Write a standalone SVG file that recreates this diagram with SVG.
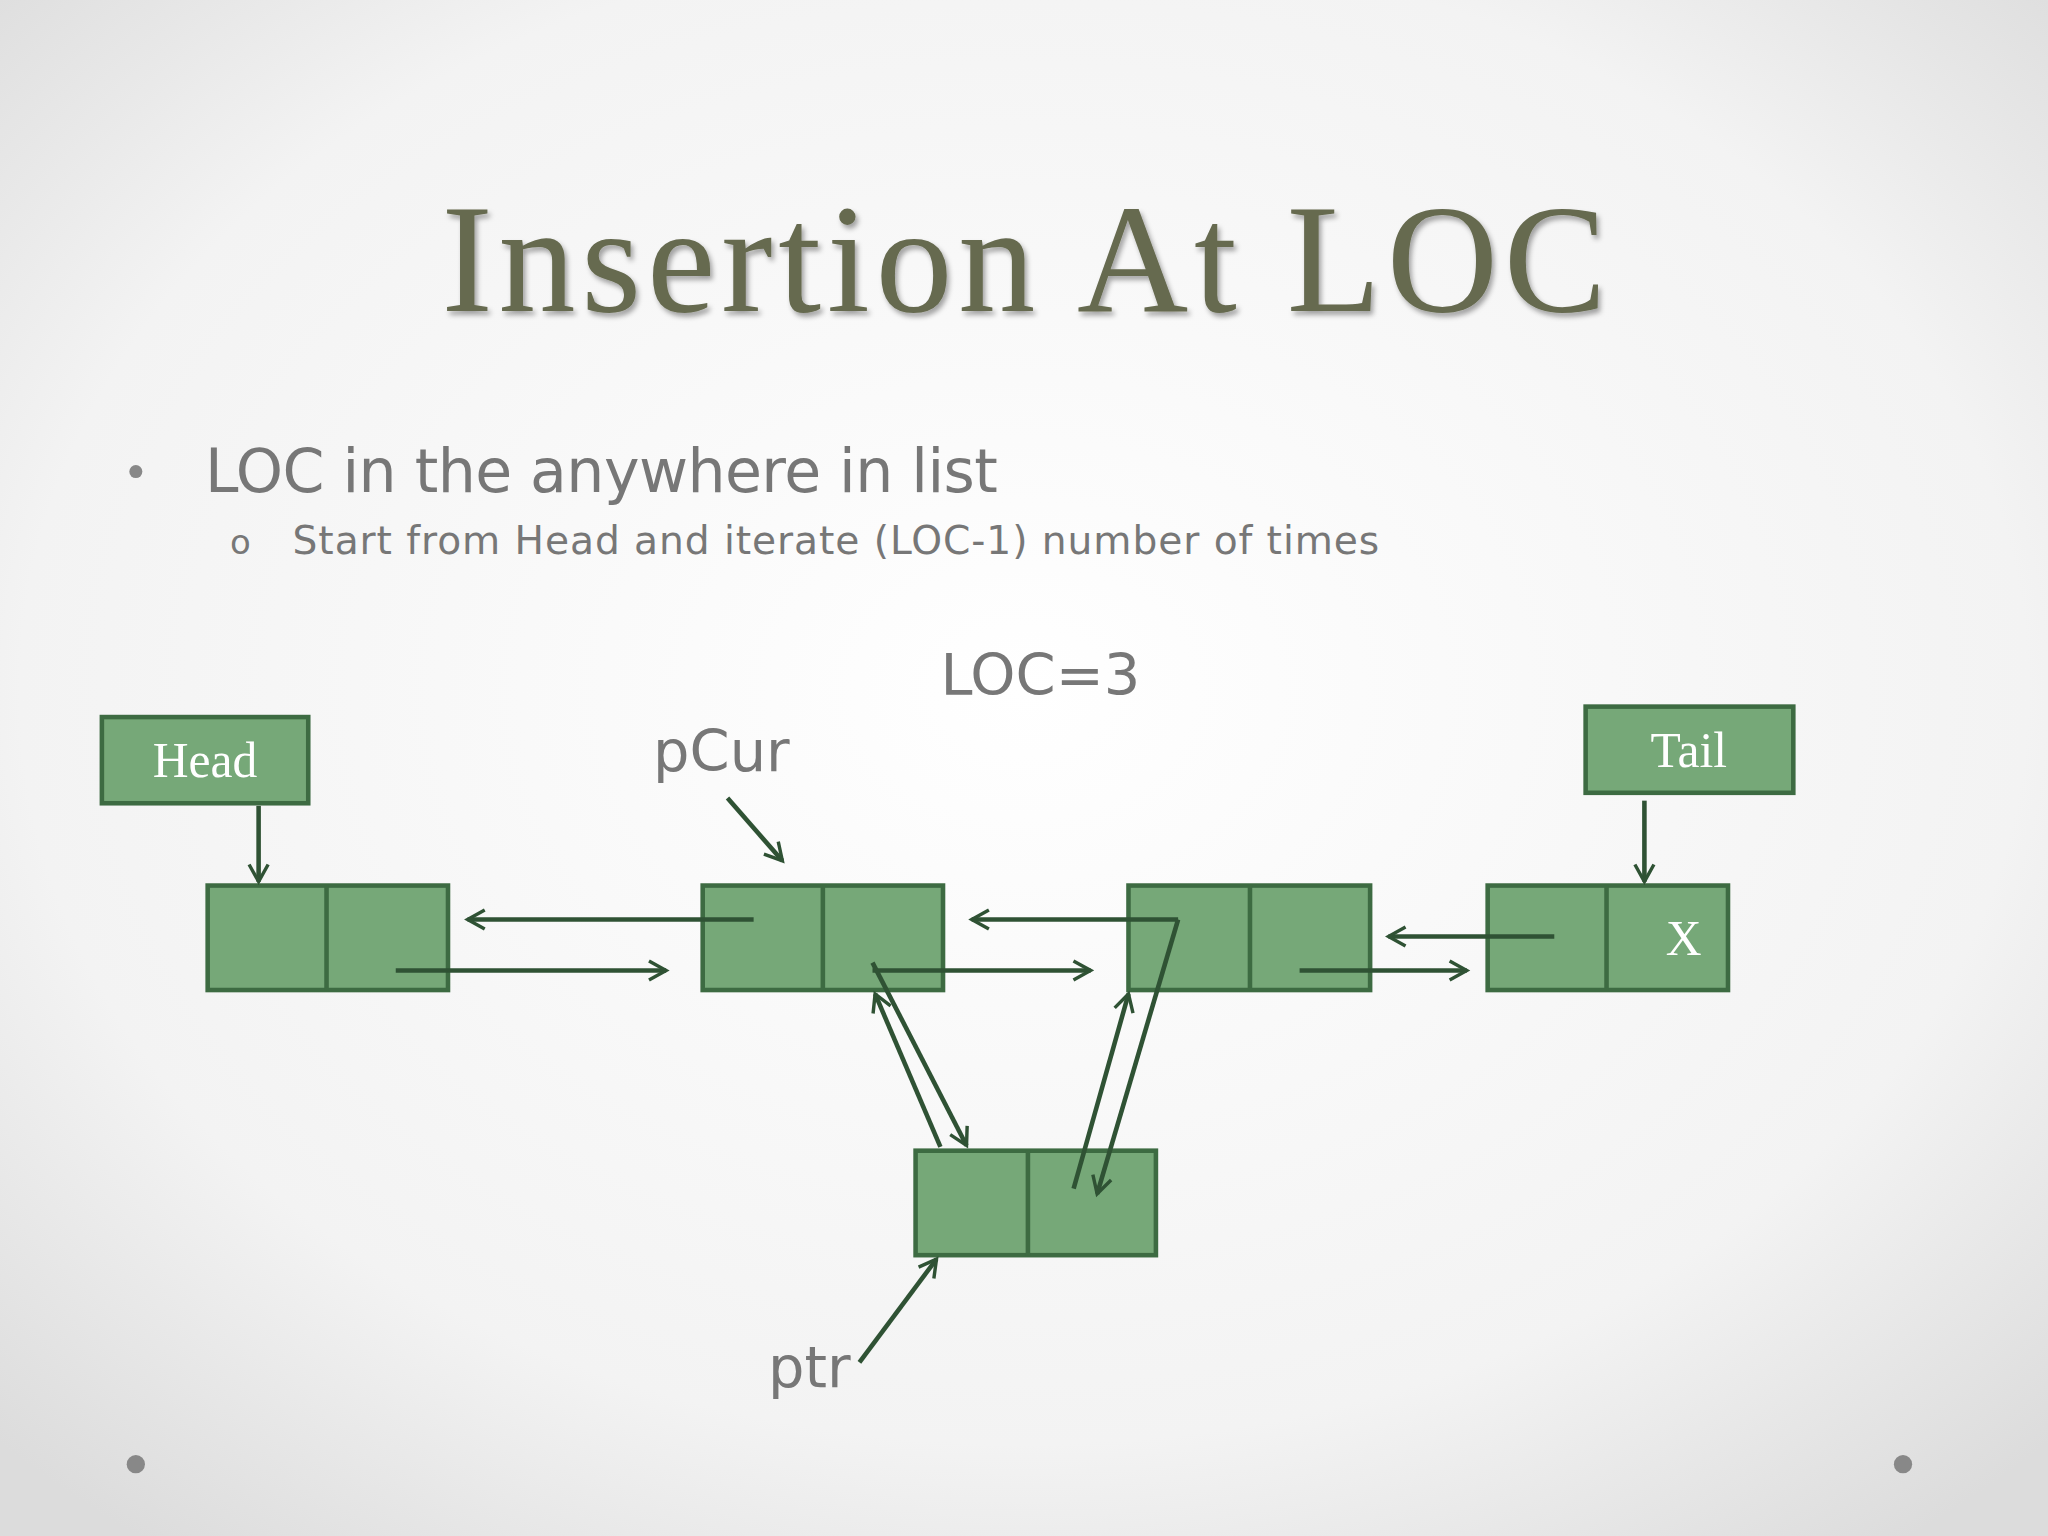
<svg xmlns="http://www.w3.org/2000/svg" width="2048" height="1536" viewBox="0 0 2048 1536">
<defs>
<radialGradient id="bg" cx="50%" cy="45%" r="70%"><stop offset="0" stop-color="#ffffff"/><stop offset="0.7" stop-color="#f3f3f3"/><stop offset="1" stop-color="#dcdcdc"/></radialGradient>
<marker id="ah" viewBox="0 0 12 12" refX="10" refY="6" markerWidth="5" markerHeight="5" orient="auto" markerUnits="strokeWidth"><polyline points="1,1 10,6 1,11" fill="none" stroke="#2f5234" stroke-width="1.8"/></marker>
<filter id="sh"><feDropShadow dx="2" dy="3" stdDeviation="2" flood-color="#000" flood-opacity="0.35"/></filter>
<style>
.box{fill:#76a878;stroke:#3d6b42;stroke-width:3.5}
.lbl{font-family:"Liberation Serif","DejaVu Serif",serif;fill:#fff;font-size:38px;text-anchor:middle}
.gt{font-family:"DejaVu Sans","Liberation Sans",sans-serif;fill:#777}
.c{fill:none;stroke:#2f5234;stroke-width:3.5;marker-end:url(#ah)}
</style>
</defs>
<rect width="2048" height="1536" fill="url(#bg)"/>
<g transform="scale(1.30612)">
<text x="784" y="238" font-family="'Liberation Serif','DejaVu Serif',serif" font-size="118" fill="#666a50" text-anchor="middle" filter="url(#sh)" textLength="892" lengthAdjust="spacing">Insertion At LOC</text>
<circle cx="104" cy="361" r="5" fill="#888"/>
<text class="gt" x="157" y="377" font-size="46" textLength="607" lengthAdjust="spacing">LOC in the anywhere in list</text>
<text class="gt" x="176" y="424" font-size="26">o</text>
<text class="gt" x="224" y="424" font-size="30" textLength="832" lengthAdjust="spacing">Start from Head and iterate (LOC-1) number of times</text>
<text class="gt" x="720" y="532" font-size="44">LOC=3</text>
<text class="gt" x="500" y="590" font-size="44">pCur</text>
<text class="gt" x="588" y="1062" font-size="44">ptr</text>
<g id="head"><rect class="box" x="78" y="549" width="158" height="66"/><text class="lbl" x="157" y="595">Head</text></g>
<g id="tail"><rect class="box" x="1214" y="541" width="159" height="66"/><text class="lbl" x="1293" y="587">Tail</text></g>
<g id="n1"><rect class="box" x="159" y="678" width="184" height="80"/><line class="box" x1="250" y1="678" x2="250" y2="758"/></g>
<g id="n2"><rect class="box" x="538" y="678" width="184" height="80"/><line class="box" x1="630" y1="678" x2="630" y2="758"/></g>
<g id="n3"><rect class="box" x="864" y="678" width="185" height="80"/><line class="box" x1="957" y1="678" x2="957" y2="758"/></g>
<g id="n4"><rect class="box" x="1139" y="678" width="184" height="80"/><line class="box" x1="1230" y1="678" x2="1230" y2="758"/><text class="lbl" x="1289" y="731">X</text></g>
<g id="newnode"><rect class="box" x="701" y="881" width="184" height="80"/><line class="box" x1="787" y1="881" x2="787" y2="961"/></g>
<g id="connectors">
<line class="c" x1="198" y1="617" x2="198" y2="675"/>
<line class="c" x1="1259" y1="613" x2="1259" y2="675"/>
<line class="c" x1="303" y1="743" x2="510" y2="743"/>
<line class="c" x1="577" y1="704" x2="358" y2="704"/>
<line class="c" x1="668" y1="743" x2="835" y2="743"/>
<line class="c" x1="902" y1="704" x2="744" y2="704"/>
<line class="c" x1="902" y1="704" x2="840" y2="914"/>
<line class="c" x1="1190" y1="717" x2="1063" y2="717"/>
<line class="c" x1="995" y1="743" x2="1123" y2="743"/>
<line class="c" x1="668" y1="737" x2="740" y2="877"/>
<line class="c" x1="720" y1="878" x2="670" y2="761"/>
<line class="c" x1="822" y1="910" x2="864" y2="761"/>
<line class="c" x1="658" y1="1043" x2="717" y2="964"/>
<line class="c" x1="557" y1="611" x2="599" y2="659"/>
</g>
<circle cx="104" cy="1121" r="7" fill="#888"/>
<circle cx="1457" cy="1121" r="7" fill="#888"/>
</g>
</svg>
